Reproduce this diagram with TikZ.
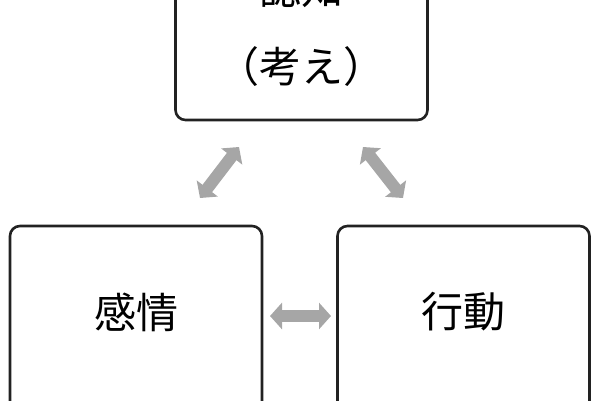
\documentclass[tikz,border=0pt]{standalone}
\usepackage{fontspec}
\newfontfamily\cjk{Noto Sans CJK JP}
\usetikzlibrary{arrows.meta}
\definecolor{boxline}{HTML}{222222}
\definecolor{arrgray}{HTML}{A6A6A6}
\tikzset{
  box/.style={draw=boxline,line width=2.6pt,rounded corners=10pt,minimum width=252pt,inner sep=0pt},
  lbl/.style={font=\cjk\fontsize{42}{50}\selectfont,inner sep=0pt},
  dbl/.style={draw=arrgray,line width=12pt,{Triangle[length=12pt,width=26pt]}-{Triangle[length=12pt,width=26pt]}}
}
\begin{document}
\begin{tikzpicture}[x=1pt,y=-1pt]
\useasboundingbox (0,0) rectangle (600,400);
\clip (0,0) rectangle (600,400);
\node[box,minimum height=150pt] (top) at (301.5,45) {};
\node[lbl] (tt1) at (301.5,-12) {認知};
\node[lbl] (tt2) at (301.5,67) {（考え）};
\node[box,minimum height=200pt] (left) at (136,326) {};
\node[lbl] (lt) at (136,312) {感情};
\node[box,minimum height=200pt] (right) at (463.5,326) {};
\node[lbl] (rt) at (463.5,312) {行動};
\coordinate (l1) at (200,198);
\coordinate (l2) at (239,147);
\coordinate (r1) at (363,147);
\coordinate (r2) at (403,198);
\coordinate (h1) at (270,316);
\coordinate (h2) at (331,316);
\draw[dbl] (l1) -- (l2);
\draw[dbl] (r1) -- (r2);
\draw[dbl] (h1) -- (h2);
\end{tikzpicture}
\end{document}
